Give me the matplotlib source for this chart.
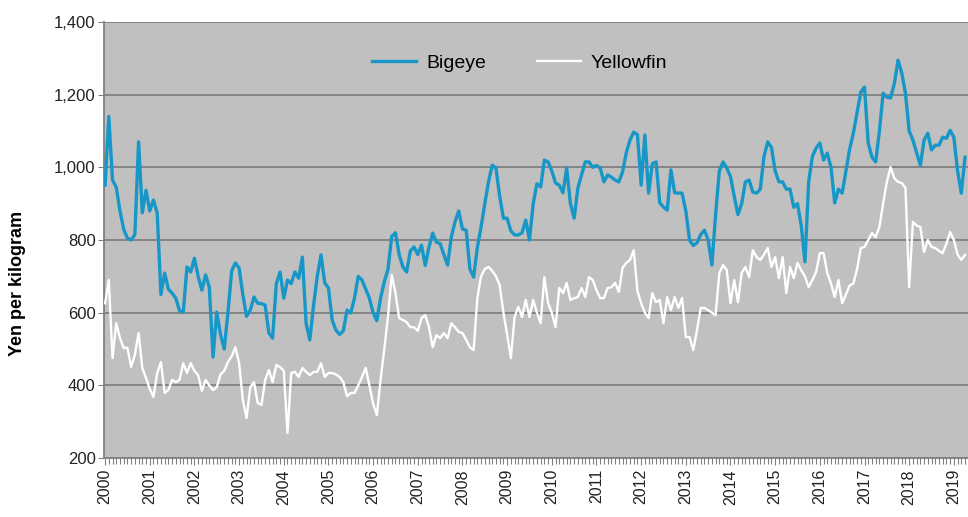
import matplotlib
matplotlib.use("Agg")
import matplotlib.pyplot as plt
from matplotlib.ticker import FixedLocator, MultipleLocator, FuncFormatter
import numpy as np

plt.rcParams["font.family"] = ["Liberation Sans", "DejaVu Sans"]

# monthly prices, yen per kilogram, Jan 2000 - Apr 2019
years = [str(y) for y in range(2000, 2020)]

bigeye = [
    951, 1140, 965, 945, 880, 830, 805, 800, 815, 1070, 875, 937,   # 2000
    880, 910, 874, 650, 709, 665, 654, 640, 605, 602, 726, 712,     # 2001
    750, 700, 662, 704, 670, 478, 602, 540, 500, 600, 715, 737,     # 2002
    723, 650, 590, 607, 643, 626, 625, 621, 544, 530, 680, 712,     # 2003
    640, 690, 680, 712, 695, 753, 571, 525, 620, 700, 759, 682,     # 2004
    668, 580, 552, 540, 550, 607, 599, 640, 700, 690, 665, 640,     # 2005
    600, 578, 640, 685, 720, 810, 820, 760, 726, 712, 770, 781,     # 2006
    760, 786, 730, 780, 819, 794, 790, 760, 731, 808, 850, 880,     # 2007
    830, 827, 720, 698, 780, 836, 900, 960, 1006, 998, 920, 860,    # 2008
    860, 825, 814, 814, 820, 855, 800, 900, 955, 946, 1020, 1015,   # 2009
    990, 957, 951, 930, 998, 900, 860, 943, 980, 1015, 1015, 1000,  # 2010
    1005, 998, 960, 979, 973, 965, 960, 987, 1040, 1075, 1097, 1090,  # 2011
    951, 1089, 929, 1010, 1015, 902, 891, 882, 993, 930, 929, 929,  # 2012
    880, 800, 785, 792, 815, 827, 800, 731, 870, 990, 1015, 998,    # 2013
    975, 920, 870, 900, 960, 965, 932, 929, 940, 1030, 1070, 1055,  # 2014
    990, 960, 960, 940, 940, 890, 900, 840, 740, 960, 1030, 1053,   # 2015
    1067, 1020, 1039, 1000, 902, 940, 929, 990, 1050, 1094, 1150, 1207,  # 2016
    1221, 1067, 1028, 1015, 1100, 1204, 1193, 1191, 1230, 1295, 1260, 1204,  # 2017
    1100, 1075, 1040, 1006, 1075, 1094, 1048, 1061, 1061, 1083, 1080, 1102,  # 2018
    1083, 990, 929, 1028,                                           # 2019
]

yellowfin = [
    626, 690, 475, 571, 530, 503, 503, 451, 484, 544, 448, 420,     # 2000
    390, 368, 434, 464, 379, 387, 415, 409, 415, 461, 434, 461,     # 2001
    440, 428, 385, 415, 400, 387, 395, 430, 440, 464, 480, 505,     # 2002
    461, 360, 310, 395, 409, 351, 346, 415, 442, 409, 456, 450,     # 2003
    440, 269, 434, 437, 423, 448, 437, 428, 437, 437, 461, 423,     # 2004
    434, 434, 430, 423, 409, 370, 379, 379, 400, 423, 448, 400,     # 2005
    350, 318, 415, 500, 590, 704, 654, 585, 580, 574, 560, 560,     # 2006
    550, 585, 593, 560, 505, 538, 530, 544, 530, 571, 560, 547,     # 2007
    544, 525, 505, 497, 640, 700, 720, 726, 715, 700, 676, 600,     # 2008
    540, 475, 588, 616, 588, 635, 588, 635, 600, 571, 698, 626,     # 2009
    600, 560, 668, 654, 682, 635, 640, 643, 668, 643, 698, 690,     # 2010
    662, 640, 640, 668, 670, 682, 657, 723, 737, 745, 772, 660,     # 2011
    626, 600, 585, 654, 629, 635, 571, 643, 607, 643, 613, 640,     # 2012
    533, 533, 497, 552, 613, 613, 607, 600, 593, 709, 731, 717,     # 2013
    626, 690, 629, 709, 726, 698, 772, 753, 745, 760, 778, 726,     # 2014
    753, 695, 753, 654, 726, 695, 737, 717, 700, 670, 690, 712,     # 2015
    764, 764, 709, 680, 643, 690, 626, 650, 675, 680, 720, 778,     # 2016
    781, 800, 819, 808, 836, 900, 960, 1001, 970, 960, 957, 943,    # 2017
    670, 850, 840, 836, 767, 800, 781, 778, 770, 764, 790, 822,     # 2018
    800, 760, 745, 759,                                             # 2019
]

months = np.arange(len(bigeye))

fig = plt.figure(figsize=(9.68, 5.17), dpi=100)
ax = fig.add_axes([0.1074, 0.1141, 0.8926, 0.8433])
ax.set_facecolor("#c0c0c0")

ax.plot(months, bigeye, color="#1797c7", lw=2.4, label="Bigeye", zorder=3)
ax.plot(months, yellowfin, color="white", lw=1.7, label="Yellowfin", zorder=3)

ax.set_ylim(200, 1400)
ax.set_xlim(-0.3, 231.8)
ax.yaxis.set_major_locator(MultipleLocator(200))
ax.yaxis.set_major_formatter(FuncFormatter(lambda v, p: f"{int(v):,}"))
ax.xaxis.set_major_locator(FixedLocator(np.arange(0, 240, 12)))
ax.set_xticklabels(years, rotation=90)
ax.xaxis.set_minor_locator(MultipleLocator(1))

ax.grid(axis="y", color="#808080", lw=1.3, zorder=1)
for s in ["top", "right"]:
    ax.spines[s].set_visible(False)
ax.spines["left"].set_color("#808080")
ax.spines["left"].set_linewidth(1.3)
ax.spines["bottom"].set_color("#808080")
ax.spines["bottom"].set_linewidth(1.3)

ax.tick_params(axis="y", length=4, color="#808080", labelsize=12, labelcolor="#222222", pad=2)
ax.tick_params(axis="x", which="major", length=5, color="#808080", labelsize=11.5,
               labelcolor="#222222", pad=3)
ax.tick_params(axis="x", which="minor", length=4, color="#808080", width=0.8)

ax.set_ylabel("Yen per kilogram", fontsize=13, fontweight="bold")
ax.yaxis.set_label_coords(-0.09, 0.40)

leg = ax.legend(loc="center", bbox_to_anchor=(0.481, 0.906), ncol=2, frameon=False,
                fontsize=14, handlelength=2.3, columnspacing=2.6, handletextpad=0.5)

fig.savefig("out.png", dpi=100)
